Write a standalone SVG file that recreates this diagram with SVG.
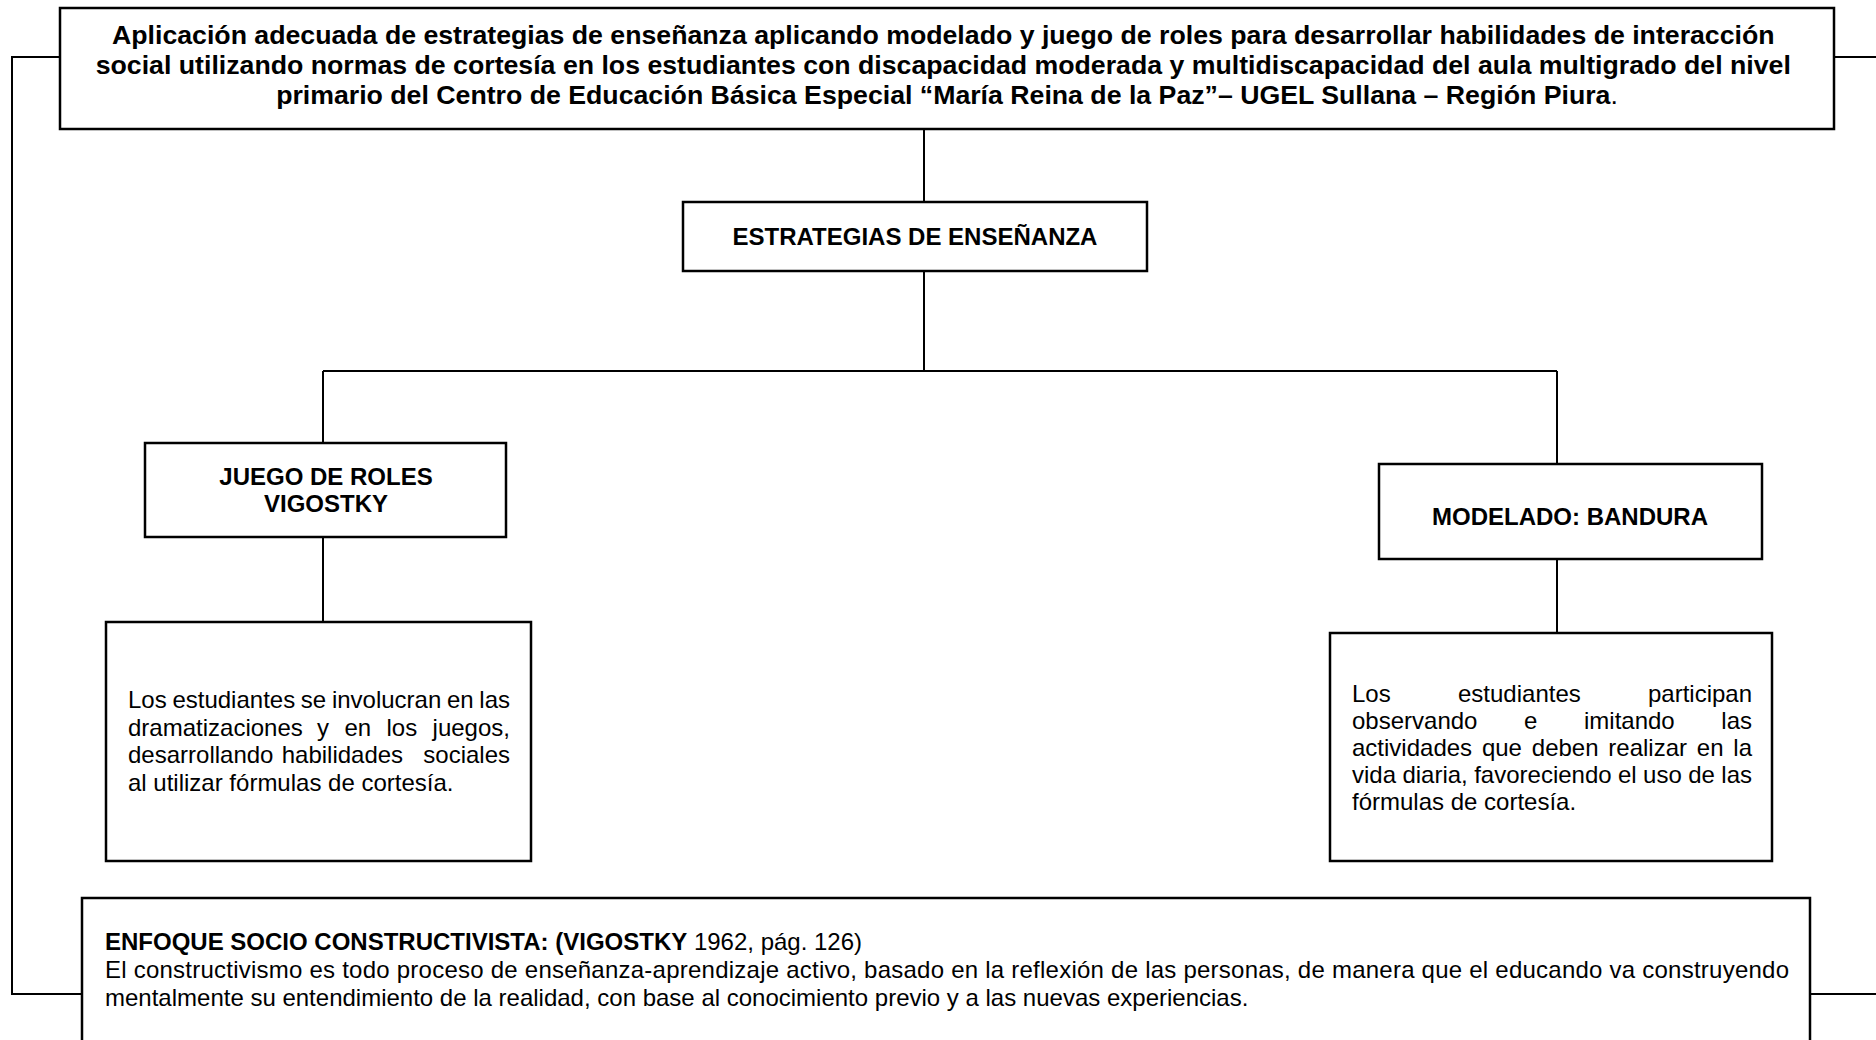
<svg xmlns="http://www.w3.org/2000/svg" width="1876" height="1040" viewBox="0 0 1876 1040">
<style>
.box{fill:#fff;stroke:#000;stroke-width:2.5}
.con{fill:none;stroke:#000;stroke-width:2}
.t{font-family:"Liberation Sans",Arial,sans-serif;fill:#000}
.ttl{font-size:26.7px;font-weight:bold}
.lbl{font-size:24px;font-weight:bold}
.body{font-size:24px}
</style>
<rect width="1876" height="1040" fill="#fff"/>
<g id="connectors">
<path class="con" d="M60,57 H12 V994 H82"/>
<path class="con" d="M1834,57 H1876"/>
<path class="con" d="M1810,994 H1876"/>
<path class="con" d="M924,129 V202"/>
<path class="con" d="M924,271 V371"/>
<path class="con" d="M323,371 H1557"/>
<path class="con" d="M323,371 V443"/>
<path class="con" d="M1557,371 V464"/>
<path class="con" d="M323,537 V622"/>
<path class="con" d="M1557,559 V633"/>
</g>
<g id="title">
<rect class="box" x="60" y="8" width="1774" height="121"/>
<text class="t ttl" text-anchor="middle">
<tspan x="947" y="44">Aplicación adecuada de estrategias de enseñanza aplicando modelado y juego de roles para desarrollar habilidades de interacción</tspan>
<tspan x="947" y="74">social utilizando normas de cortesía en los estudiantes con discapacidad moderada y multidiscapacidad del aula multigrado del nivel</tspan>
<tspan x="947" y="104">primario del Centro de Educación Básica Especial “María Reina de la Paz”– UGEL Sullana – Región Piura<tspan font-weight="normal">.</tspan></tspan>
</text>
</g>
<g id="estrategias">
<rect class="box" x="683" y="202" width="464" height="69"/>
<text class="t lbl" x="915" y="245" text-anchor="middle">ESTRATEGIAS DE ENSEÑANZA</text>
</g>
<g id="juego">
<rect class="box" x="145" y="443" width="361" height="94"/>
<text class="t lbl" text-anchor="middle"><tspan x="326" y="485">JUEGO DE ROLES</tspan><tspan x="326" y="512">VIGOSTKY</tspan></text>
</g>
<g id="modelado">
<rect class="box" x="1379" y="464" width="383" height="95"/>
<text class="t lbl" x="1570" y="525" text-anchor="middle">MODELADO: BANDURA</text>
</g>
<g id="juego-text">
<rect class="box" x="106" y="622" width="425" height="239"/>
<text class="t body">
<tspan x="128" y="708">Los</tspan><tspan x="172.4" y="708">estudiantes</tspan><tspan x="300.8" y="708">se</tspan><tspan x="331.9" y="708">involucran</tspan><tspan x="446.9" y="708">en</tspan><tspan x="479.3" y="708">las</tspan>
<tspan x="128" y="735.5">dramatizaciones</tspan><tspan x="317" y="735.5">y</tspan><tspan x="344.4" y="735.5">en</tspan><tspan x="386.5" y="735.5">los</tspan><tspan x="432.6" y="735.5">juegos,</tspan>
<tspan x="128" y="763">desarrollando</tspan><tspan x="281.7" y="763">habilidades</tspan><tspan x="423.3" y="763">sociales</tspan>
<tspan x="128" y="790.5">al utilizar fórmulas de cortesía.</tspan>
</text>
</g>
<g id="modelado-text">
<rect class="box" x="1330" y="633" width="442" height="228"/>
<text class="t body">
<tspan x="1352" y="702">Los</tspan><tspan x="1458" y="702">estudiantes</tspan><tspan x="1648" y="702">participan</tspan>
<tspan x="1352" y="729">observando</tspan><tspan x="1524" y="729">e</tspan><tspan x="1584" y="729">imitando</tspan><tspan x="1721.3" y="729">las</tspan>
<tspan x="1352" y="756">actividades</tspan><tspan x="1481.9" y="756">que</tspan><tspan x="1531.8" y="756">deben</tspan><tspan x="1608.3" y="756">realizar</tspan><tspan x="1696.8" y="756">en</tspan><tspan x="1733.3" y="756">la</tspan>
<tspan x="1352" y="783">vida</tspan><tspan x="1402.4" y="783">diaria,</tspan><tspan x="1474.2" y="783">favoreciendo</tspan><tspan x="1618" y="783">el</tspan><tspan x="1643.1" y="783">uso</tspan><tspan x="1688.2" y="783">de</tspan><tspan x="1721.3" y="783">las</tspan>
<tspan x="1352" y="810">fórmulas de cortesía.</tspan>
</text>
</g>
<g id="enfoque">
<rect class="box" x="82" y="898" width="1728" height="170"/>
<text class="t body" x="105" y="950"><tspan font-weight="bold">ENFOQUE SOCIO CONSTRUCTIVISTA: (VIGOSTKY</tspan> 1962, pág. 126)</text>
<text class="t body" x="105" y="978" textLength="1684" lengthAdjust="spacing">El constructivismo es todo proceso de enseñanza-aprendizaje activo, basado en la reflexión de las personas, de manera que el educando va construyendo</text>
<text class="t body" x="105" y="1006">mentalmente su entendimiento de la realidad, con base al conocimiento previo y a las nuevas experiencias.</text>
</g>
</svg>
